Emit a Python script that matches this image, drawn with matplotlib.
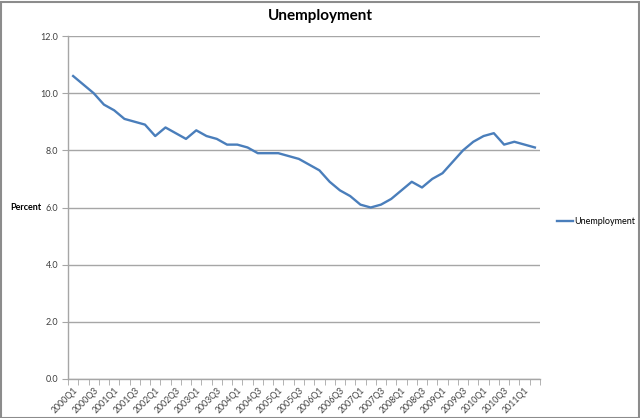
import matplotlib
matplotlib.use("Agg")
import matplotlib.pyplot as plt
from matplotlib.patches import Rectangle
import numpy as np

plt.rcParams["font.family"] = ["Lato", "DejaVu Sans"]

# quarterly series 2000Q1 .. 2011Q2
quarters = [f"{year}Q{q}" for year in range(2000, 2012) for q in range(1, 5)][:46]
unemployment = [
    10.6, 10.3, 10.0, 9.6, 9.4, 9.1, 9.0, 8.9, 8.5, 8.8, 8.6, 8.4,
    8.7, 8.5, 8.4, 8.2, 8.2, 8.1, 7.9, 7.9, 7.9, 7.8, 7.7, 7.5,
    7.3, 6.9, 6.6, 6.4, 6.1, 6.0, 6.1, 6.3, 6.6, 6.9, 6.7, 7.0,
    7.2, 7.6, 8.0, 8.3, 8.5, 8.6, 8.2, 8.3, 8.2, 8.1,
]
y_ticks = [0.0, 2.0, 4.0, 6.0, 8.0, 10.0, 12.0]

line_color = "#4A7EBB"
grid_color = "#A6A6A6"

fig = plt.figure(figsize=(6.4, 4.18), dpi=100)
ax = fig.add_axes([68 / 640, 1 - 379 / 418, (540 - 68) / 640, (379 - 36) / 418])

x = np.arange(len(quarters))
ax.plot(x, unemployment, color=line_color, linewidth=1.7, label="Unemployment",
        solid_joinstyle="round", zorder=3)

ax.set_xlim(-0.5, len(quarters) - 0.5)
ax.set_ylim(0, 12)

ax.set_yticks(y_ticks)
ax.set_yticklabels([f"{v:.1f}" for v in y_ticks], fontsize=6.5, color="#404040")
ax.yaxis.grid(True, color=grid_color, linewidth=1)
ax.set_axisbelow(True)

ax.set_xticks(x[::2])
ax.set_xticklabels(quarters[::2], rotation=45, ha="right", rotation_mode="anchor",
                   fontsize=6.3, color="#404040")
ax.set_xticks(np.arange(-0.5, len(quarters)), minor=True)
ax.tick_params(axis="x", which="major", length=0, pad=5)
ax.tick_params(axis="x", which="minor", length=4, direction="out", color=grid_color)
ax.tick_params(axis="y", length=4, direction="out", color=grid_color, pad=3)

for side in ["top", "right"]:
    ax.spines[side].set_visible(False)
for side in ["left", "bottom"]:
    ax.spines[side].set_color(grid_color)
    ax.spines[side].set_linewidth(1)

fig.text(320 / 640, 1 - 16 / 418, "Unemployment", ha="center", va="center",
         fontsize=11, fontweight="bold", color="black")
fig.text(26 / 640, 1 - 208 / 418, "Percent", ha="center", va="center",
         fontsize=6.5, fontweight="bold", color="black")

fig.legend(loc="center left", bbox_to_anchor=(553 / 640, 1 - 222 / 418), frameon=False,
           fontsize=6.5, handlelength=1.8, handletextpad=0.2, borderaxespad=0)

fig.patches.append(Rectangle((0.5 / 640, 0.5 / 418), 1 - 2 / 640, 1 - 2 / 418,
                             transform=fig.transFigure, fill=False,
                             edgecolor="#8C8C8C", linewidth=1.5))

fig.savefig("out.png", dpi=100)
